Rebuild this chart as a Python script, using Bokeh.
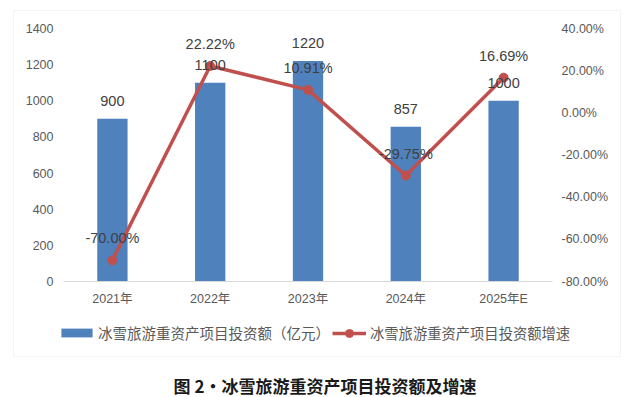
from bokeh.plotting import figure
from bokeh.models import (Range1d, LinearAxis, FixedTicker, NumeralTickFormatter,
                          Legend, LegendItem, Label, BoxAnnotation, ColumnDataSource)
from bokeh.core.properties import value
from bokeh.embed import file_html
from bokeh.resources import INLINE

years = ["2021年", "2022年", "2023年", "2024年", "2025年E"]
investment = [900, 1100, 1220, 857, 1000]
growth = [-0.70, 0.2222, 0.1091, -0.2975, 0.1669]
bar_name = "冰雪旅游重资产项目投资额（亿元）"
line_name = "冰雪旅游重资产项目投资额增速"
chart_title = "图 2·冰雪旅游重资产项目投资额及增速"
left_ticks = [0, 200, 400, 600, 800, 1000, 1200, 1400]
right_ticks = [-0.8, -0.6, -0.4, -0.2, 0.0, 0.2, 0.4]

FONT = "'Liberation Sans', 'Noto Sans CJK SC'"
CJK = "'Noto Sans CJK SC'"
BLUE = "#4F81BD"
RED = "#C0504D"
GREY = "#595959"
DARK = "#404040"

W, H = 630, 397
# plot area in page pixels
PL, PR, PT, PB = 63, 552, 28, 281
n = len(years)
cat_w = (PR - PL) / n
xs = list(range(n))
x0 = -0.5 - PL / cat_w
x1 = x0 + W / cat_w
ly0, ly1 = left_ticks[0], left_ticks[-1]
lk = (PB - PT) / (ly1 - ly0)
ry0, ry1 = right_ticks[0], right_ticks[-1]
rk = (PB - PT) / (ry1 - ry0)

src = ColumnDataSource(dict(
    x=xs, inv=investment, g=growth,
    inv_lbl=[str(v) for v in investment],
    g_lbl=[f"{v*100:.2f}%" for v in growth],
))

p = figure(width=W, height=H, x_range=Range1d(x0, x1),
           y_range=Range1d(ly0 - (H - PB) / lk, ly1 + PT / lk),
           x_axis_location=None, y_axis_location=None,
           output_backend="svg", toolbar_location=None,
           min_border=0, min_border_left=0, min_border_right=0,
           min_border_top=0, min_border_bottom=0)
p.extra_y_ranges = {"pct": Range1d(ry0 - (H - PB) / rk, ry1 + PT / rk)}
p.outline_line_color = None
p.background_fill_color = "white"
p.border_fill_color = "white"
p.grid.visible = False

def style_axis(a, standoff):
    a.axis_line_color = None
    a.major_tick_line_color = None
    a.minor_tick_line_color = None
    a.major_tick_out = 0
    a.major_tick_in = 0
    a.minor_tick_out = 0
    a.minor_tick_in = 0
    a.major_label_text_font = FONT
    a.major_label_text_font_size = "12.5px"
    a.major_label_text_color = GREY
    a.major_label_standoff = standoff

la = LinearAxis(ticker=FixedTicker(ticks=left_ticks), fixed_location=-0.5)
style_axis(la, 10)
p.add_layout(la, "left")

ra = LinearAxis(y_range_name="pct", ticker=FixedTicker(ticks=right_ticks),
                formatter=NumeralTickFormatter(format="0.00%"), fixed_location=n - 0.5)
style_axis(ra, 9)
p.add_layout(ra, "right")

xa = LinearAxis(ticker=FixedTicker(ticks=xs), fixed_location=0,
                major_label_overrides={i: y for i, y in enumerate(years)},
                bounds=(-0.5, n - 0.5))
style_axis(xa, 10)
xa.axis_line_color = "#D9D9D9"
xa.axis_line_width = 1
p.add_layout(xa, "below")

bars = p.vbar(x="x", top="inv", width=0.31, source=src, fill_color=BLUE, line_color=None)
line = p.line(x="x", y="g", source=src, y_range_name="pct", line_color=RED, line_width=3.5)
dots = p.scatter(x="x", y="g", source=src, y_range_name="pct", size=9,
                 fill_color=RED, line_color=RED)

p.text(x="x", y="inv", text="inv_lbl", source=src, text_align="center", text_baseline="middle",
       y_offset=-18, text_font=value(FONT), text_font_size="14.5px", text_color=DARK)
p.text(x="x", y="g", text="g_lbl", source=src, y_range_name="pct", text_align="center",
       text_baseline="middle", y_offset=-22, text_font=value(FONT), text_font_size="14.5px",
       text_color=DARK)

# outer border
p.add_layout(BoxAnnotation(left=13, right=620, top=H - 10, bottom=H - 356,
                           left_units="screen", right_units="screen",
                           top_units="screen", bottom_units="screen",
                           fill_alpha=0, line_color="#D9D9D9", line_width=1))

leg1 = Legend(items=[LegendItem(label=bar_name, renderers=[bars])], location=(57, H - 343),
              orientation="horizontal", glyph_width=39, glyph_height=11, label_standoff=2,
              padding=0, margin=0, border_line_color=None, background_fill_alpha=0,
              label_text_font=CJK, label_text_font_size="14.5px", label_text_color=GREY)
leg2 = Legend(items=[LegendItem(label=line_name, renderers=[line, dots])], location=(332, H - 343),
              orientation="horizontal", glyph_width=34, glyph_height=20, label_standoff=4,
              padding=0, margin=0, border_line_color=None, background_fill_alpha=0,
              label_text_font=CJK, label_text_font_size="14.3px", label_text_color=GREY)
p.add_layout(leg1)
p.add_layout(leg2)

p.add_layout(Label(x=324.5, y=H - 385, x_units="screen", y_units="screen", text=chart_title,
                   text_align="center", text_baseline="middle", text_font=CJK,
                   text_font_size="17px", text_font_style="bold", text_color="#1a1a1a"))

open("out.html", "w").write(file_html(p, INLINE))
